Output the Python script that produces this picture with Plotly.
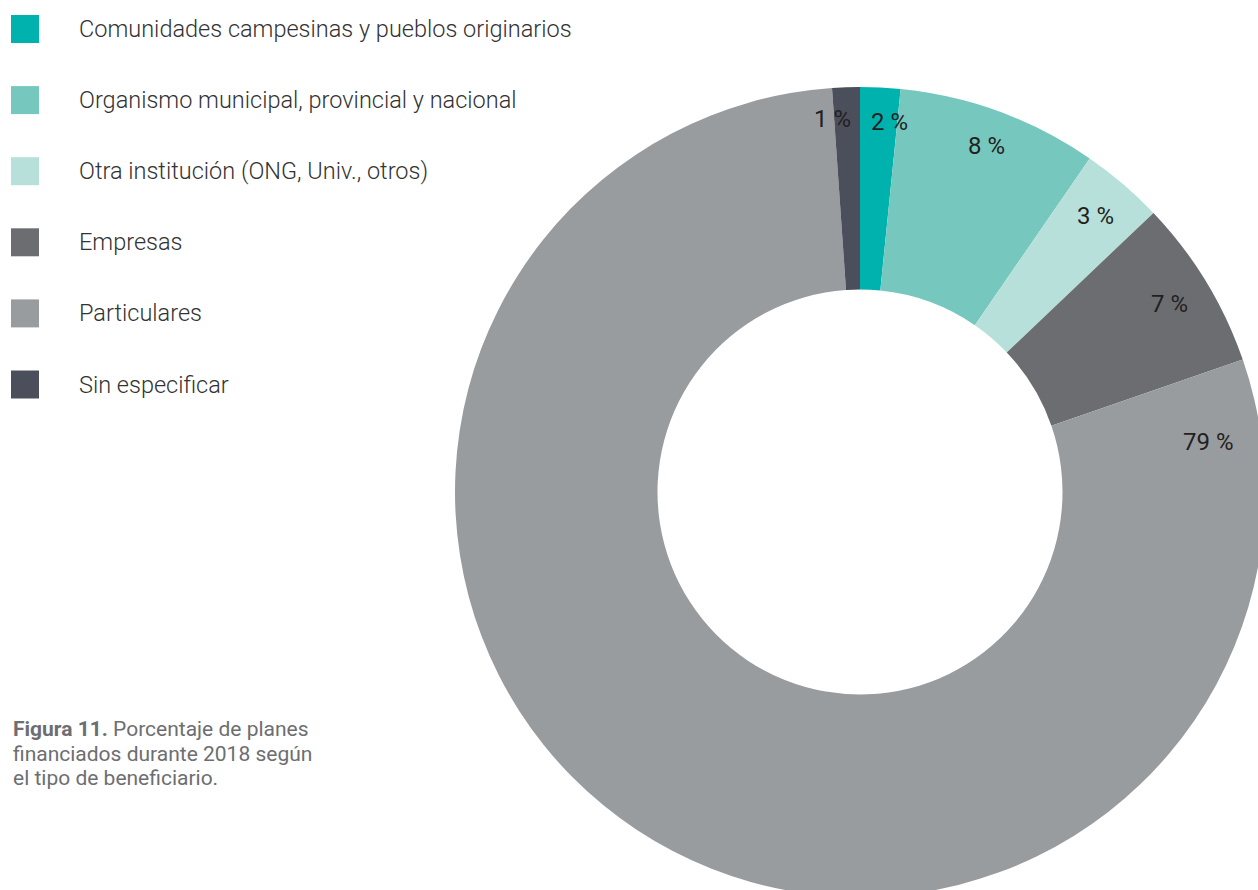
import math
import plotly.graph_objects as go

# ---- data ----
categories = [
    "Comunidades campesinas y pueblos originarios",
    "Organismo municipal, provincial y nacional",
    "Otra institución (ONG, Univ., otros)",
    "Empresas",
    "Particulares",
    "Sin especificar",
]
values = [1.6, 8.0, 3.3, 6.8, 79.2, 1.1]
value_labels = ["2 %", "8 %", "3 %", "7 %", "79 %", "1 %"]
colors = ["#00B2AE", "#76C7BE", "#B8E0DB", "#6C6D71", "#999C9F", "#4B4E5B"]
caption_lines = [
    "<b>Figura 11.</b> Porcentaje de planes",
    "financiados durante 2018 según",
    "el tipo de beneficiario.",
]

# label placement along each slice (fraction of the slice's angular span)
label_frac = [0.79, 0.5, 0.5, 0.5, 0.038, -0.08]
label_rad = [0.916, 0.909, 0.896, 0.894, 0.869, 0.923]

# the donut in the original is slightly cropped by the page edge
W, H = 1265, 897
cx, cy, R = 860, 492, 405          # pixel centre / radius of the donut
dom_x = [max(0, (cx - R) / W), min(1, (cx + R) / W)]
dom_y = [max(0, 1 - (cy + R) / H), min(1, 1 - (cy - R) / H)]

fig = go.Figure()
fig.add_trace(go.Pie(
    labels=categories,
    values=values,
    hole=0.5,
    sort=False,
    direction="clockwise",
    rotation=0,
    marker=dict(colors=colors, line=dict(width=0)),
    textinfo="none",
    hoverinfo="label+percent",
    showlegend=False,
    domain=dict(x=dom_x, y=dom_y),
))

annotations = []
shapes = []
total = sum(values)
start = 0.0
for v, lab, f, rr in zip(values, value_labels, label_frac, label_rad):
    span = v / total * 360.0
    ang = math.radians(start + f * span)
    start += span
    px = cx + rr * R * math.sin(ang)
    py = cy - rr * R * math.cos(ang)
    annotations.append(dict(
        x=px / W, y=1 - py / H, xref="paper", yref="paper",
        text=lab, showarrow=False, xanchor="center", yanchor="middle",
        font=dict(family="Roboto", size=24, color="#231F20"),
    ))

# custom legend
for i, (cat, col) in enumerate(zip(categories, colors)):
    yc = 29 + 71.1 * i
    shapes.append(dict(
        type="rect", xref="paper", yref="paper",
        x0=11 / W, x1=39 / W, y0=1 - (yc + 14) / H, y1=1 - (yc - 14) / H,
        fillcolor=col, line=dict(width=0),
    ))
    annotations.append(dict(
        x=77 / W, y=1 - yc / H, xref="paper", yref="paper",
        text=cat, showarrow=False, xanchor="left", yanchor="middle",
        font=dict(family="Roboto Light, Roboto", size=23.5, color="#333333", weight=300),
    ))

for j, line in enumerate(caption_lines):
    yc = 729 + 24.5 * j
    annotations.append(dict(
        x=11 / W, y=1 - yc / H, xref="paper", yref="paper",
        text=line, showarrow=False, xanchor="left", yanchor="middle", align="left",
        font=dict(family="Roboto", size=21, color="#6D6E71"),
    ))

fig.update_layout(
    width=W, height=H,
    margin=dict(l=0, r=0, t=0, b=0),
    paper_bgcolor="white", plot_bgcolor="white",
    annotations=annotations, shapes=shapes,
)

fig.write_html("out.html", config={"displayModeBar": False},
               post_script="document.body.style.margin='0';"
                           "document.body.style.overflow='hidden';"
                           "document.documentElement.style.overflow='hidden';")
